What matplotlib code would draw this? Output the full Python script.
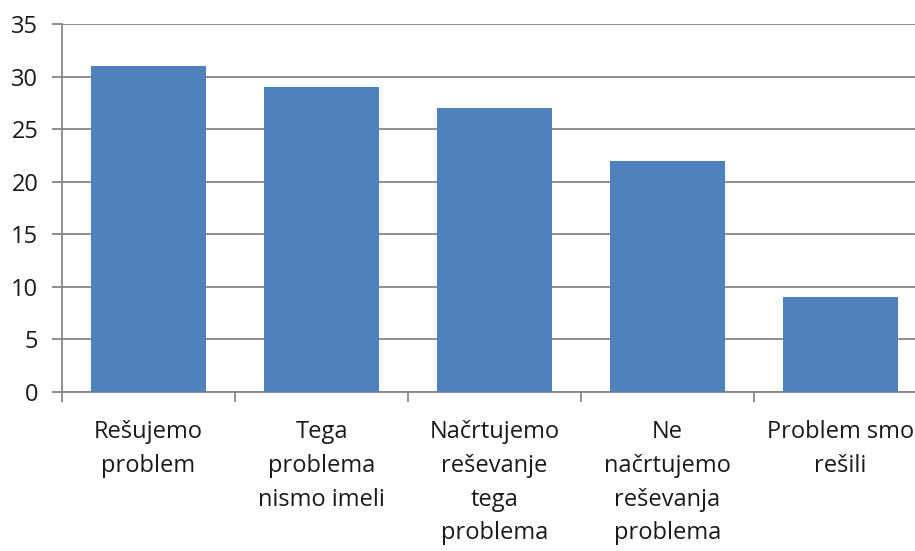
import matplotlib.pyplot as plt

categories = [
    'Rešujemo\nproblem',
    'Tega\nproblema\nnismo imeli',
    'Načrtujemo\nreševanje\ntega\nproblema',
    'Ne\nnačrtujemo\nreševanja\nproblema',
    'Problem smo\nrešili',
]
values = [31, 29, 27, 22, 9]
y_ticks = [0, 5, 10, 15, 20, 25, 30, 35]

plt.rcParams['font.family'] = ['Open Sans', 'DejaVu Sans']

fig = plt.figure(figsize=(9.15, 5.51), dpi=100)
# plot area runs past the right edge, as in the cropped original
ax = fig.add_axes([62 / 915, 159 / 551, 865 / 915, 368 / 551])

x = list(range(len(values)))
ax.bar(x, values, width=0.665, color='#4F81BD', zorder=3)

ax.set_xlim(-0.5, len(values) - 0.5)
ax.set_ylim(0, 35)
ax.set_yticks(y_ticks)
ax.set_yticklabels([str(t) for t in y_ticks], fontsize=17, color='#1a1a1a')
ax.yaxis.grid(True, color='#868686', linewidth=1.3, zorder=0)

ax.set_xticks([i + 0.5 for i in range(-1, len(values))], minor=False)
ax.set_xticklabels([])
ax.set_xticks(x, minor=True)
ax.set_xticklabels(categories, minor=True, fontsize=17, color='#1a1a1a',
                   linespacing=1.55, va='top')
ax.tick_params(axis='x', which='minor', length=0, pad=20)
ax.tick_params(axis='x', which='major', length=7, width=1.3, color='#868686')
ax.tick_params(axis='y', length=7, width=1.3, color='#868686', pad=10)

for side in ['top', 'right']:
    ax.spines[side].set_visible(False)
for side in ['left', 'bottom']:
    ax.spines[side].set_color('#868686')
    ax.spines[side].set_linewidth(1.3)

fig.savefig('out.png', dpi=100)
